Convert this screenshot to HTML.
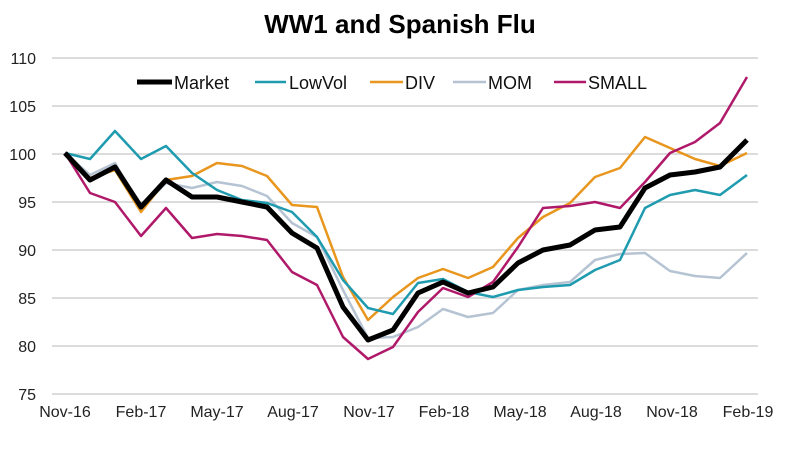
<!DOCTYPE html>
<html><head><style>body{margin:0;background:#fff}</style></head><body>
<svg width="800" height="452" xmlns="http://www.w3.org/2000/svg" font-family="Liberation Sans, sans-serif">
<rect width="800" height="452" fill="#fff"/>
<text x="400" y="33" text-anchor="middle" font-size="26" font-weight="bold">WW1 and Spanish Flu</text>
<g stroke="#d0d0d0" stroke-width="1.5">
<line x1="52" x2="758" y1="58" y2="58"/><line x1="52" x2="758" y1="106" y2="106"/><line x1="52" x2="758" y1="154" y2="154"/><line x1="52" x2="758" y1="202" y2="202"/><line x1="52" x2="758" y1="250" y2="250"/><line x1="52" x2="758" y1="298" y2="298"/><line x1="52" x2="758" y1="346" y2="346"/><line x1="52" x2="758" y1="394" y2="394"/>
</g>
<g font-size="16" text-anchor="end" fill="#222">
<text x="36" y="64">110</text><text x="36" y="112">105</text><text x="36" y="160">100</text><text x="36" y="208">95</text><text x="36" y="256">90</text><text x="36" y="304">85</text><text x="36" y="352">80</text><text x="36" y="400">75</text>
</g>
<g font-size="16" text-anchor="middle" fill="#222">
<text x="65" y="417">Nov-16</text><text x="141" y="417">Feb-17</text><text x="217" y="417">May-17</text><text x="293" y="417">Aug-17</text><text x="369" y="417">Nov-17</text><text x="444" y="417">Feb-18</text><text x="520" y="417">May-18</text><text x="596" y="417">Aug-18</text><text x="672" y="417">Nov-18</text><text x="748" y="417">Feb-19</text>
</g>
<g fill="none" stroke-linejoin="round">
<polyline stroke="#b5c3d3" stroke-width="2.5" points="65,153 90,175 115,163 141,208 166,183 192,188 217,182 242,186 267,196 292,223 317,237 343,290 368,338 393,337 418,327 443,309 468,317 493,313 518,290 543,285 570,282 595,260 620,254 645,253 670,271 695,276 720,278 747,253"/>
<polyline stroke="#e8961e" stroke-width="2.5" points="65,153 90,178 115,170 141,212 166,180 192,176 217,163 242,166 267,176 292,205 317,207 343,277 368,320 393,297 418,278 443,269 468,278 493,267 518,238 543,217 570,203 595,177 620,168 645,137 670,148 695,159 720,166 747,153"/>
<polyline stroke="#1f9bb0" stroke-width="2.5" points="65,153 90,159 115,131 141,159 166,146 192,173 217,190 242,200 267,203 292,212 317,237 343,280 368,308 393,314 418,283 443,279 468,292 493,297 518,290 543,287 570,285 595,270 620,260 645,208 670,195 695,190 720,195 747,175"/>
<polyline stroke="#b0196a" stroke-width="2.5" points="65,153 90,193 115,202 141,236 166,208 192,238 217,234 242,236 267,240 292,272 317,285 343,337 368,359 393,347 418,312 443,288 468,297 493,282 518,247 543,208 570,206 595,202 620,208 645,182 670,153 695,142 720,123 747,77"/>
<polyline stroke="#000" stroke-width="5" points="65,153 90,180 115,167 141,207 166,180 192,197 217,197 242,202 267,207 292,233 317,248 343,307 368,340 393,330 418,293 443,282 468,293 493,287 518,263 543,250 570,245 595,230 620,227 645,188 670,175 695,172 720,167 747,140"/>
</g>
<g font-size="18" fill="#111">
<line x1="137" x2="172" y1="82" y2="82" stroke="#000" stroke-width="5"/><text x="174" y="89">Market</text>
<line x1="255" x2="286" y1="82" y2="82" stroke="#1f9bb0" stroke-width="2.5"/><text x="289" y="89">LowVol</text>
<line x1="370" x2="403" y1="82" y2="82" stroke="#e8961e" stroke-width="2.5"/><text x="405" y="89">DIV</text>
<line x1="453" x2="486" y1="82" y2="82" stroke="#b5c3d3" stroke-width="2.5"/><text x="488" y="89">MOM</text>
<line x1="554" x2="586" y1="82" y2="82" stroke="#b0196a" stroke-width="2.5"/><text x="588" y="89">SMALL</text>
</g>
</svg>
</body></html>
